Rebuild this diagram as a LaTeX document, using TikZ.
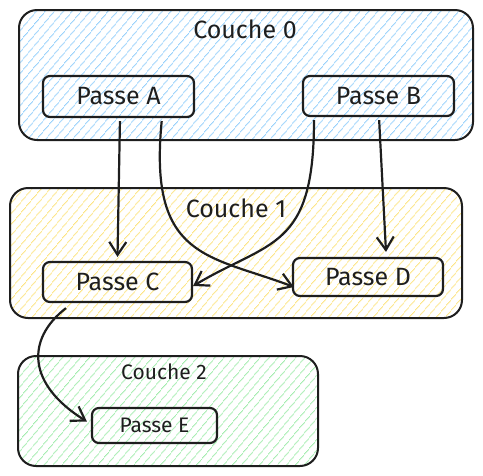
\documentclass[tikz,border=0pt]{standalone}
\usepackage{fontspec}
\setmainfont{Fira Sans}
\usetikzlibrary{arrows.meta,patterns.meta}
\definecolor{bleu}{HTML}{96D0FB}
\definecolor{jaune}{HTML}{FCE483}
\definecolor{vert}{HTML}{A3ECAE}
\definecolor{trait}{HTML}{1E1E1E}

\begin{document}
\begin{tikzpicture}[x=1pt,y=-1pt,>={Straight Barb[length=13pt,width=17pt]},
  every node/.style={font=\fontsize{25}{29}\selectfont,text=trait},
  petit/.style={font=\fontsize{21}{25}\selectfont},
  hachure/.style={pattern={Lines[angle=50,distance=6.5pt,line width=1.1pt]},pattern color=#1},
  couche/.style={draw=trait,line width=2pt,rounded corners=18pt,inner sep=0pt},
  passe/.style={draw=trait,line width=2.2pt,rounded corners=7pt,inner sep=0pt},
  lien/.style={->,line width=2.2pt,draw=trait}]
  \useasboundingbox (0,0) rectangle (483,475);
  % couches
  \node[couche,hachure=bleu,minimum width=454pt,minimum height=130pt] (couche0) at (246,75) {};
  \node[couche,hachure=jaune,minimum width=452pt,minimum height=130pt] (couche1) at (236,253) {};
  \node[couche,hachure=vert,minimum width=300pt,minimum height=110pt] (couche2) at (168,411) {};
  \node (titre0) at (245,29) {Couche 0};
  \node (titre1) at (236,208) {Couche 1};
  \node[petit] (titre2) at (164,372) {Couche 2};
  % passes
  \node[passe,minimum width=151pt,minimum height=41pt] (passeA) at (118.5,96.5) {Passe A};
  \node[passe,minimum width=151pt,minimum height=40pt] (passeB) at (378.5,96) {Passe B};
  \node[passe,minimum width=149pt,minimum height=40pt] (passeC) at (117.5,282) {Passe C};
  \node[passe,minimum width=150pt,minimum height=38pt] (passeD) at (368,277) {Passe D};
  \node[passe,petit,minimum width=125pt,minimum height=35pt] (passeE) at (154.5,425.5) {Passe E};
  % dependances
  \draw[lien,shorten <=3pt] ([xshift=1.5pt]passeA.south) -- ([yshift=4pt]passeC.north);
  \draw[lien,shorten <=3pt] ([xshift=43.5pt]passeA.south)
    .. controls (148,260) and (210,255) .. ([xshift=2pt,yshift=-10pt]passeD.west);
  \draw[lien,shorten <=3pt] ([xshift=-64.5pt]passeB.south)
    .. controls (314,250) and (270,240) .. ([yshift=-4pt]passeC.east);
  \draw[lien,shorten <=3pt] ([xshift=0.5pt]passeB.south) -- ([xshift=18pt,yshift=5pt]passeD.north);
  \draw[lien] ([xshift=-51.5pt,yshift=-5pt]passeC.south)
    .. controls (25,340) and (28,385) .. ([xshift=-4pt,yshift=4pt]passeE.west);
\end{tikzpicture}
\end{document}
